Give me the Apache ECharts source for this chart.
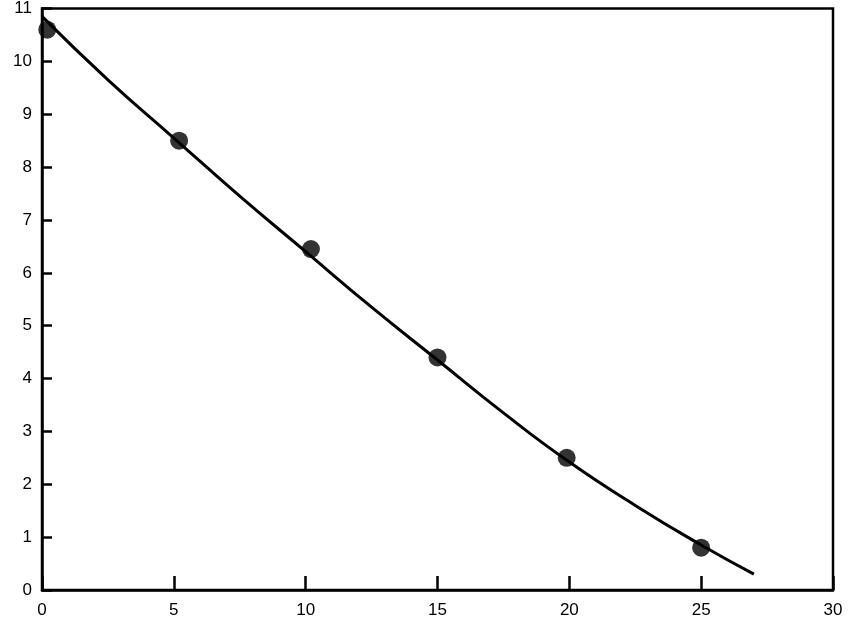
<!DOCTYPE html>
<html>
<head>
<meta charset="UTF-8">
<script src="https://cdn.jsdelivr.net/npm/echarts@6/dist/echarts.min.js"></script>
</head>
<body style="margin:0;background:#fff;">
<div id="main" style="width:854px;height:630px;"></div>
<script>
var pointsX = [0.2, 5.2, 10.2, 15.0, 19.9, 25.0];
var pointsY = [10.6, 8.5, 6.45, 4.4, 2.5, 0.8];
var curveX = [0, 2.5, 5, 7.5, 10, 12.5, 15, 17.5, 20, 22.5, 25, 27];
var curveY = [10.85, 9.65, 8.55, 7.45, 6.4, 5.35, 4.35, 3.35, 2.42, 1.6, 0.85, 0.3];

var chart = echarts.init(document.getElementById('main'));
var axisStyle = {lineStyle: {color: '#000', width: 2.5}};
var labelStyle = {color: '#000', fontSize: 17, fontFamily: 'Liberation Sans'};
chart.setOption({
    animation: false,
    grid: {left: 42, right: 21, top: 8, bottom: 40, show: true, borderColor: '#000', borderWidth: 2.5},
    xAxis: {
        type: 'value', min: 0, max: 30, interval: 5,
        axisLine: axisStyle,
        axisTick: {inside: true, length: 14, lineStyle: {color: '#000', width: 2.5}},
        axisLabel: Object.assign({margin: 12}, labelStyle),
        splitLine: {show: false}
    },
    yAxis: {
        type: 'value', min: 0, max: 11, interval: 1,
        axisLine: axisStyle,
        axisTick: {inside: true, length: 10, lineStyle: {color: '#000', width: 2.5}},
        axisLabel: Object.assign({margin: 10}, labelStyle),
        splitLine: {show: false}
    },
    series: [
        {
            type: 'line', smooth: true, symbol: 'none',
            lineStyle: {color: '#000', width: 3},
            data: curveX.map(function (x, i) { return [x, curveY[i]]; })
        },
        {
            type: 'scatter', symbolSize: 18,
            itemStyle: {color: '#000'},
            data: pointsX.map(function (x, i) { return [x, pointsY[i]]; })
        }
    ]
});
</script>
</body>
</html>
